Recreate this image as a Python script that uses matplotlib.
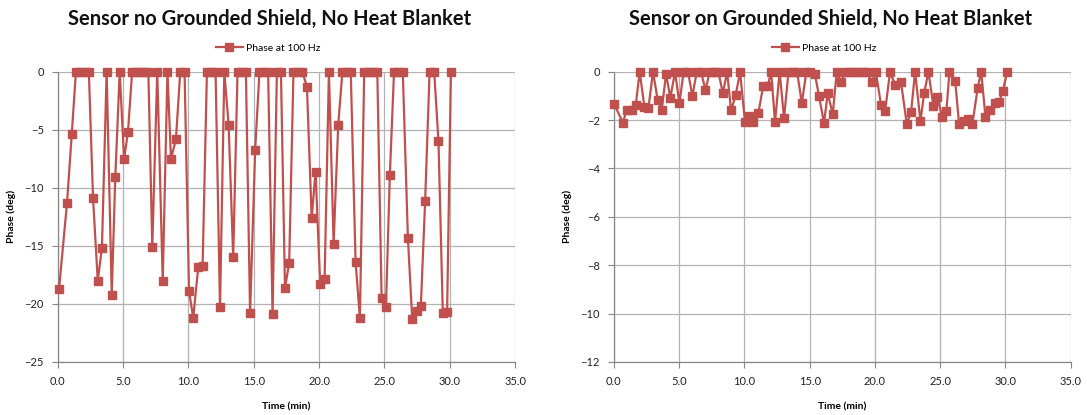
import matplotlib.pyplot as plt
from matplotlib.ticker import FormatStrFormatter

plt.rcParams['font.family'] = ['Lato', 'DejaVu Sans']

RED = '#C0504D'
GRID = '#b3b3b3'

# left panel: sensor without grounded shield
t_left = [0.11, 0.72, 1.08, 1.40, 1.73, 2.06, 2.39, 2.71, 3.07, 3.39,
          3.75, 4.14, 4.41, 4.75, 5.08, 5.38, 5.70, 6.01, 6.32, 6.63,
          6.94, 7.24, 7.62, 8.04, 8.40, 8.67, 9.05, 9.38, 9.71, 10.05,
          10.37, 10.76, 11.09, 11.42, 11.75, 12.08, 12.42, 12.75, 13.08, 13.43,
          13.76, 14.09, 14.40, 14.72, 15.11, 15.44, 15.77, 16.10, 16.44, 16.77,
          17.08, 17.39, 17.71, 18.04, 18.38, 18.72, 19.07, 19.43, 19.73, 20.08,
          20.42, 20.75, 21.11, 21.46, 21.78, 22.10, 22.42, 22.79, 23.12, 23.45,
          23.78, 24.11, 24.45, 24.78, 25.11, 25.41, 25.73, 26.06, 26.40, 26.79,
          27.12, 27.45, 27.78, 28.11, 28.45, 28.80, 29.13, 29.46, 29.79, 30.08]
phase_left = [-18.7, -11.3, -5.4, 0, 0, 0, 0, -10.9, -18.0, -15.2,
              0, -19.2, -9.1, 0, -7.5, -5.2, 0, 0, 0, 0,
              0, -15.1, 0, -18.0, 0, -7.5, -5.8, 0, 0, -18.9,
              -21.2, -16.8, -16.7, 0, 0, 0, -20.3, 0, -4.6, -16.0,
              0, 0, 0, -20.8, -6.7, 0, 0, 0, -20.9, 0,
              0, -18.6, -16.5, 0, 0, 0, -1.3, -12.6, -8.6, -18.3,
              -17.9, 0, -14.8, -4.6, 0, 0, 0, -16.4, -21.2, 0,
              0, 0, 0, -19.5, -20.3, -8.9, 0, 0, 0, -14.3,
              -21.3, -20.6, -20.2, -11.1, 0, 0, -6.0, -20.8, -20.7, 0]

# right panel: sensor on grounded shield
t_right = [0.04, 0.68, 0.99, 1.37, 1.68, 1.98, 2.34, 2.65, 3.00, 3.36,
           3.67, 4.00, 4.33, 4.69, 5.02, 5.35, 5.68, 6.02, 6.35, 6.68,
           7.02, 7.35, 7.68, 8.01, 8.35, 8.68, 8.98, 9.34, 9.67, 10.05,
           10.36, 10.69, 11.07, 11.45, 11.80, 12.05, 12.35, 12.70, 13.04, 13.38,
           13.71, 14.04, 14.40, 14.75, 15.05, 15.40, 15.72, 16.10, 16.39, 16.77,
           17.08, 17.41, 17.74, 18.07, 18.40, 18.73, 19.06, 19.40, 19.76, 20.07,
           20.47, 20.78, 21.16, 21.55, 22.00, 22.44, 22.77, 23.08, 23.49, 23.77,
           24.10, 24.48, 24.79, 25.13, 25.48, 25.71, 26.15, 26.45, 26.84, 27.16,
           27.47, 27.88, 28.14, 28.47, 28.85, 29.21, 29.52, 29.80, 30.13]
phase_right = [-1.34, -2.10, -1.60, -1.57, -1.37, 0, -1.44, -1.50, 0, -1.16,
               -1.57, -0.10, -1.07, 0, -1.30, 0, 0, -1.00, 0, 0,
               -0.75, 0, 0, 0, -0.89, 0, -1.60, -0.96, 0, -2.09,
               -1.82, -2.09, -1.71, -0.57, -0.57, 0, -2.09, 0, -1.92, 0,
               0, 0, -1.30, 0, 0, -0.10, -1.00, -2.12, -0.89, -1.75,
               0, -0.44, 0, 0, 0, 0, 0, 0, -0.44, 0,
               -1.37, -1.64, 0, -0.55, -0.44, -2.15, -1.67, 0, -2.05, -0.89,
               0, -1.40, -1.03, -1.85, -1.62, 0, -0.38, -2.16, -2.05, -1.94,
               -2.15, -0.66, 0, -1.85, -1.60, -1.30, -1.23, -0.79, 0]

titles = ['Sensor no Grounded Shield, No Heat Blanket',
          'Sensor on Grounded Shield, No Heat Blanket']
x_ticks = [0, 5, 10, 15, 20, 25, 30, 35]
y_ticks_left = [0, -5, -10, -15, -20, -25]
y_ticks_right = [0, -2, -4, -6, -8, -10, -12]

fig = plt.figure(figsize=(10.87, 4.15), dpi=100)
ax_l = fig.add_axes([0.053, 0.128, 0.421, 0.699])
ax_r = fig.add_axes([0.5647, 0.128, 0.4203, 0.699])

panels = [(ax_l, t_left, phase_left, y_ticks_left, 0.248),
          (ax_r, t_right, phase_right, y_ticks_right, 0.764)]

for (ax, t, ph, yt, cx), title in zip(panels, titles):
    ax.plot(t, ph, color=RED, lw=1.6, marker='s', ms=6.2,
            mec=RED, mfc=RED, label='Phase at 100 Hz', clip_on=False, zorder=3)
    ax.set_xlim(0, 35)
    ax.set_ylim(min(yt), 0)
    ax.set_xticks(x_ticks)
    ax.set_yticks(yt)
    ax.xaxis.set_major_formatter(FormatStrFormatter('%.1f'))
    ax.grid(True, color=GRID, lw=0.9)
    ax.set_axisbelow(True)
    for s in ['top', 'right']:
        ax.spines[s].set_visible(False)
    for s in ['left', 'bottom']:
        ax.spines[s].set_color('#868686')
        ax.spines[s].set_linewidth(0.9)
    ax.tick_params(length=4, width=0.8, color='#868686', labelsize=8,
                   labelcolor='#222222', pad=6)
    ax.set_xlabel('Time (min)', fontsize=7.5, fontweight='bold', labelpad=11)
    ax.set_ylabel('Phase (deg)', fontsize=7.5, fontweight='bold', labelpad=6)
    fig.text(cx, 0.955, title, ha='center', va='center',
             fontsize=14.5, fontweight='bold', color='#111111')
    ax.legend(loc='lower center', bbox_to_anchor=(0.46, 1.04), frameon=False,
              fontsize=7.5, handlelength=2.6, handletextpad=0.3,
              borderaxespad=0.3)

fig.savefig('out.png', dpi=100)
